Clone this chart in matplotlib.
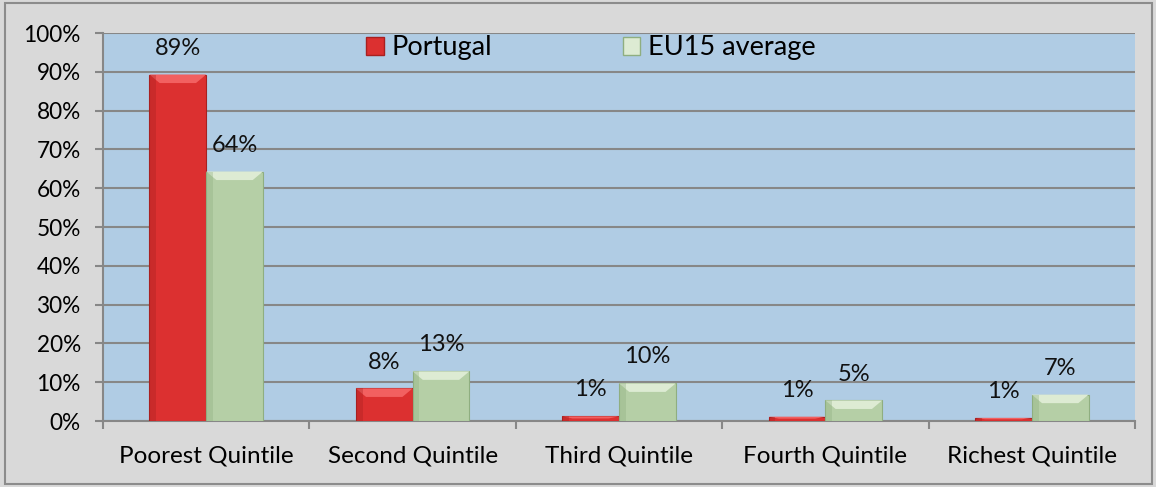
import numpy as np
import matplotlib.pyplot as plt
from matplotlib.patches import Polygon, Rectangle, Patch

plt.rcParams['font.family'] = ['Lato', 'DejaVu Sans']

categories = ['Poorest Quintile', 'Second Quintile', 'Third Quintile',
              'Fourth Quintile', 'Richest Quintile']
portugal = [89.3, 8.4, 1.2, 1.1, 0.8]
eu15 = [64.3, 12.8, 9.7, 5.3, 6.8]
portugal_labels = ['89%', '8%', '1%', '1%', '1%']
eu15_labels = ['64%', '13%', '10%', '5%', '7%']

RED = '#DC3030'
RED_DARK = '#A82020'
RED_LIGHT = '#F26060'
GREEN = '#B5CFA6'
GREEN_DARK = '#8FAE80'
GREEN_LIGHT = '#DDEBD3'


def bevel_bars(ax, xs, vals, width, face, edge, light):
    bars = ax.bar(xs, vals, width, color=face, edgecolor=edge, linewidth=0.8, zorder=3)
    for b in bars:
        x0, w, h = b.get_x(), b.get_width(), b.get_height()
        bh = min(2.2, h * 0.45)
        inset = w * 0.18
        top = Polygon([(x0, h), (x0 + w, h), (x0 + w - inset, h - bh), (x0 + inset, h - bh)],
                      closed=True, facecolor=light, edgecolor='none', zorder=4)
        ax.add_patch(top)
        ax.add_patch(Rectangle((x0, 0), w * 0.12, h, facecolor=edge, alpha=0.35,
                               edgecolor='none', zorder=4))
    return bars


fig = plt.figure(figsize=(11.56, 4.87), dpi=100, facecolor='#D9D9D9')
fig.patches.append(Rectangle((5 / 1156, 3 / 487), 1147 / 1156, 481 / 487,
                             transform=fig.transFigure, facecolor='none',
                             edgecolor='#8C8C8C', linewidth=1.5))
ax = fig.add_axes([103 / 1156, 66 / 487, 1032 / 1156, 388 / 487])
ax.set_facecolor('#B0CCE4')

x = np.arange(len(categories))
w = 0.275
bevel_bars(ax, x - w / 2, portugal, w, RED, RED_DARK, RED_LIGHT)
bevel_bars(ax, x + w / 2, eu15, w, GREEN, GREEN_DARK, GREEN_LIGHT)

for xi, v, lab in zip(x - w / 2, portugal, portugal_labels):
    ax.annotate(lab, (xi, v), xytext=(0, 19), textcoords='offset points',
                ha='center', va='center', fontsize=17, color='#111111', zorder=5)
for xi, v, lab in zip(x + w / 2, eu15, eu15_labels):
    ax.annotate(lab, (xi, v), xytext=(0, 19), textcoords='offset points',
                ha='center', va='center', fontsize=17, color='#111111', zorder=5)

ax.set_ylim(0, 100)
ax.set_xlim(-0.5, len(categories) - 0.5)
ax.set_yticks(np.arange(0, 101, 10))
ax.set_yticklabels([f'{v}%' for v in range(0, 101, 10)], fontsize=16.3)
ax.yaxis.grid(True, color='#878787', linewidth=1.5, zorder=1)
ax.set_axisbelow(True)

ax.set_xticks(x)
ax.set_xticklabels(categories, fontsize=17.5)
ax.tick_params(axis='x', length=0, pad=18)
ax.set_xticks(np.arange(-0.5, len(categories)), minor=True)
ax.tick_params(axis='x', which='minor', length=6, width=1.5, color='#878787')
ax.tick_params(axis='y', length=6, width=1.5, color='#878787', pad=10)

for s in ['top', 'right']:
    ax.spines[s].set_visible(False)
for s in ['left', 'bottom']:
    ax.spines[s].set_color('#878787')
    ax.spines[s].set_linewidth(1.5)

handles = [Patch(facecolor=RED, edgecolor=RED_DARK), Patch(facecolor=GREEN_LIGHT, edgecolor=GREEN_DARK)]
ax.legend(handles, ['Portugal', 'EU15 average'], loc='center left',
          bbox_to_anchor=(0.255, 0.962), ncol=2, frameon=False, fontsize=19.5,
          handlelength=0.65, handleheight=0.65, columnspacing=4.8,
          handletextpad=0.3, borderpad=0, borderaxespad=0)

fig.savefig('out.png', dpi=100, facecolor=fig.get_facecolor())
